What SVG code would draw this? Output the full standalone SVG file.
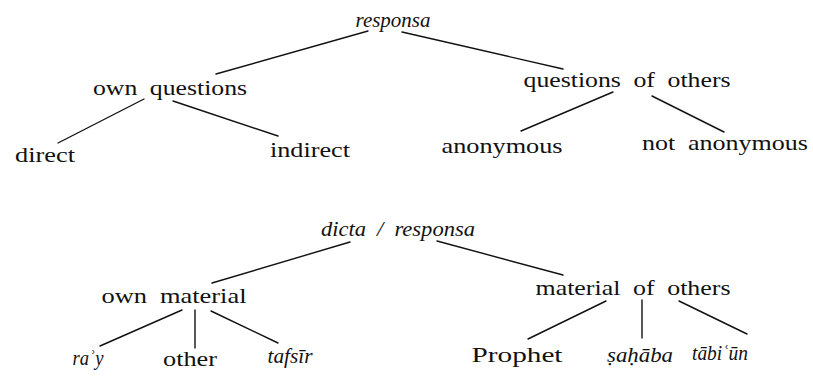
<svg xmlns="http://www.w3.org/2000/svg" width="813" height="376" viewBox="0 0 813 376">
  <style>
    text { font-family: "Liberation Serif", "DejaVu Serif", serif; font-size: 21px; fill: #111; text-anchor: middle; word-spacing: 5px; }
    text.it { font-style: italic; }
    #connectors line { stroke: #111; stroke-width: 1.4; stroke-linecap: round; }
  </style>
  <rect width="813" height="376" fill="#fff"/>

  <g id="connectors">
    <!-- upper tree -->
    <line x1="368" y1="31" x2="216" y2="74"/>
    <line x1="402" y1="32" x2="563" y2="69"/>
    <line x1="144" y1="99" x2="58" y2="143"/>
    <line x1="173" y1="101" x2="278" y2="136"/>
    <line x1="613" y1="92" x2="521" y2="131"/>
    <line x1="652" y1="96" x2="724" y2="132"/>
    <!-- lower tree -->
    <line x1="350" y1="242" x2="212" y2="283"/>
    <line x1="437" y1="241" x2="563" y2="275"/>
    <line x1="182" y1="310" x2="100" y2="346"/>
    <line x1="195" y1="310" x2="195" y2="348"/>
    <line x1="211" y1="311" x2="278" y2="343"/>
    <line x1="606" y1="301" x2="528" y2="339"/>
    <line x1="642" y1="300" x2="642" y2="338"/>
    <line x1="679" y1="301" x2="747" y2="334"/>
  </g>

  <!-- upper tree labels -->
  <g id="responsa"><text class="it" x="393" y="27" textLength="75" lengthAdjust="spacingAndGlyphs">responsa</text></g>
  <g id="own-questions"><text x="170" y="95" textLength="154" lengthAdjust="spacingAndGlyphs">own questions</text></g>
  <g id="direct"><text x="45" y="162" textLength="60" lengthAdjust="spacingAndGlyphs">direct</text></g>
  <g id="indirect"><text x="310" y="157" textLength="80" lengthAdjust="spacingAndGlyphs">indirect</text></g>
  <g id="questions-of-others"><text x="627" y="87" textLength="207" lengthAdjust="spacingAndGlyphs">questions of others</text></g>
  <g id="anonymous"><text x="502" y="153" textLength="121" lengthAdjust="spacingAndGlyphs">anonymous</text></g>
  <g id="not-anonymous"><text x="725" y="150" textLength="166" lengthAdjust="spacingAndGlyphs">not anonymous</text></g>

  <!-- lower tree labels -->
  <g id="dicta-responsa"><text class="it" x="398" y="236" textLength="154" lengthAdjust="spacingAndGlyphs">dicta / responsa</text></g>
  <g id="own-material"><text x="174" y="303" textLength="145" lengthAdjust="spacingAndGlyphs">own material</text></g>
  <g id="ray"><text class="it" x="88" y="365" textLength="31" lengthAdjust="spacingAndGlyphs">raʾy</text></g>
  <g id="other"><text x="190" y="366" textLength="54" lengthAdjust="spacingAndGlyphs">other</text></g>
  <g id="tafsir"><text class="it" x="290" y="363" textLength="45" lengthAdjust="spacingAndGlyphs">tafsīr</text></g>
  <g id="material-of-others"><text x="633" y="295" textLength="195" lengthAdjust="spacingAndGlyphs">material of others</text></g>
  <g id="prophet"><text x="517" y="362" textLength="91" lengthAdjust="spacingAndGlyphs">Prophet</text></g>
  <g id="sahaba"><text class="it" x="640" y="362" textLength="66" lengthAdjust="spacingAndGlyphs">ṣaḥāba</text></g>
  <g id="tabiun"><text class="it" x="720" y="360" textLength="56" lengthAdjust="spacingAndGlyphs">tābiʿūn</text></g>
</svg>
